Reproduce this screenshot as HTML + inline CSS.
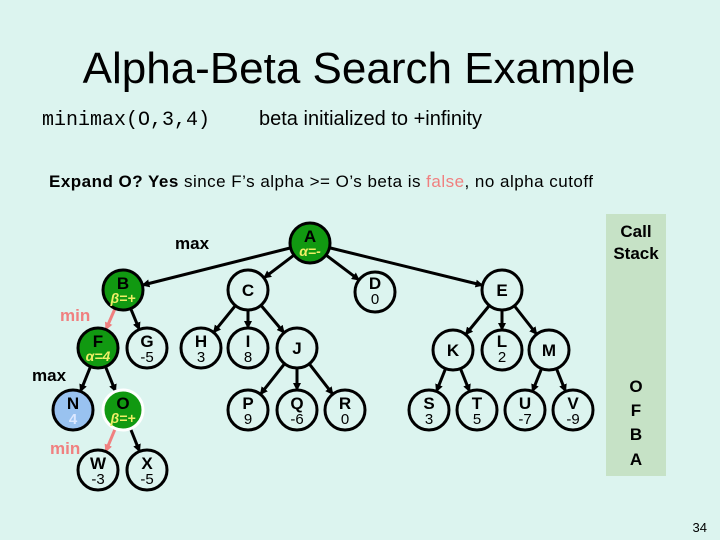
<!DOCTYPE html>
<html><head><meta charset="utf-8"><style>
body{margin:0;width:720px;height:540px;background:#dcf4ef;overflow:hidden;font-family:"Liberation Sans",sans-serif}
svg{position:absolute;left:0;top:0}
</style></head><body>
<svg width="720" height="540" viewBox="0 0 720 540" font-family="Liberation Sans, sans-serif">
<defs>
<marker id="ab" markerWidth="8" markerHeight="8" refX="7" refY="4" orient="auto" markerUnits="userSpaceOnUse"><path d="M0,0 L8,4 L0,8z" fill="#000"/></marker>
<marker id="ap" markerWidth="8" markerHeight="8" refX="7" refY="4" orient="auto" markerUnits="userSpaceOnUse"><path d="M0,0 L8,4 L0,8z" fill="#f08080"/></marker>
</defs>
<rect x="606" y="214" width="60" height="262" fill="#c6e2c6"/>
<text x="359" y="83" font-size="44" text-anchor="middle">Alpha-Beta Search Example</text>
<text x="42" y="125" font-size="20" font-family="Liberation Mono, monospace">minimax(O,3,4)</text>
<text x="259" y="125" font-size="20" textLength="223">beta initialized to +infinity</text>
<text x="49" y="187" font-size="17" textLength="544"><tspan font-weight="bold">Expand O? Yes</tspan> since F’s alpha &gt;= O’s beta is <tspan fill="#f08080">false</tspan>, no alpha cutoff</text>
<g id="edges" stroke-width="3" fill="none"></g>
<g stroke="#000" stroke-width="3">
<circle cx="310" cy="243" r="20" fill="#119911"/>
<circle cx="123" cy="290" r="20" fill="#119911"/>
<circle cx="248" cy="290" r="20" fill="#dcf4ef"/>
<circle cx="375" cy="292" r="20" fill="#dcf4ef"/>
<circle cx="502" cy="290" r="20" fill="#dcf4ef"/>
<circle cx="98" cy="348" r="20" fill="#119911"/>
<circle cx="147" cy="348" r="20" fill="#dcf4ef"/>
<circle cx="201" cy="348" r="20" fill="#dcf4ef"/>
<circle cx="248" cy="348" r="20" fill="#dcf4ef"/>
<circle cx="297" cy="348" r="20" fill="#dcf4ef"/>
<circle cx="453" cy="350" r="20" fill="#dcf4ef"/>
<circle cx="502" cy="350" r="20" fill="#dcf4ef"/>
<circle cx="549" cy="350" r="20" fill="#dcf4ef"/>
<circle cx="73" cy="410" r="20" fill="#99c2f0"/>
<circle cx="123" cy="410" r="20" fill="#119911" stroke="#fff"/>
<circle cx="248" cy="410" r="20" fill="#dcf4ef"/>
<circle cx="297" cy="410" r="20" fill="#dcf4ef"/>
<circle cx="345" cy="410" r="20" fill="#dcf4ef"/>
<circle cx="429" cy="410" r="20" fill="#dcf4ef"/>
<circle cx="477" cy="410" r="20" fill="#dcf4ef"/>
<circle cx="525" cy="410" r="20" fill="#dcf4ef"/>
<circle cx="573" cy="410" r="20" fill="#dcf4ef"/>
<circle cx="98" cy="470" r="20" fill="#dcf4ef"/>
<circle cx="147" cy="470" r="20" fill="#dcf4ef"/>
</g>
<g font-weight="bold" font-size="17" text-anchor="middle">
<text x="310" y="242">A</text><text x="310" y="256" font-size="14" fill="#eeee66" font-style="italic">α=-</text>
<text x="123" y="289">B</text><text x="123" y="303" font-size="14" fill="#eeee66" font-style="italic">β=+</text>
<text x="248" y="296">C</text>
<text x="375" y="289">D</text><text x="375" y="304" font-size="15" font-weight="normal">0</text>
<text x="502" y="296">E</text>
<text x="98" y="347">F</text><text x="98" y="361" font-size="14" fill="#eeee66" font-style="italic">α=4</text>
<text x="147" y="347">G</text><text x="147" y="362" font-size="15" font-weight="normal">-5</text>
<text x="201" y="347">H</text><text x="201" y="362" font-size="15" font-weight="normal">3</text>
<text x="248" y="347">I</text><text x="248" y="362" font-size="15" font-weight="normal">8</text>
<text x="297" y="354">J</text>
<text x="453" y="356">K</text>
<text x="502" y="347">L</text><text x="502" y="362" font-size="15" font-weight="normal">2</text>
<text x="549" y="356">M</text>
<text x="73" y="409">N</text><text x="73" y="424" font-size="15" fill="#dde8ff">4</text>
<text x="123" y="409">O</text><text x="123" y="423" font-size="14" fill="#eeee66" font-style="italic">β=+</text>
<text x="248" y="409">P</text><text x="248" y="424" font-size="15" font-weight="normal">9</text>
<text x="297" y="409">Q</text><text x="297" y="424" font-size="15" font-weight="normal">-6</text>
<text x="345" y="409">R</text><text x="345" y="424" font-size="15" font-weight="normal">0</text>
<text x="429" y="409">S</text><text x="429" y="424" font-size="15" font-weight="normal">3</text>
<text x="477" y="409">T</text><text x="477" y="424" font-size="15" font-weight="normal">5</text>
<text x="525" y="409">U</text><text x="525" y="424" font-size="15" font-weight="normal">-7</text>
<text x="573" y="409">V</text><text x="573" y="424" font-size="15" font-weight="normal">-9</text>
<text x="98" y="469">W</text><text x="98" y="484" font-size="15" font-weight="normal">-3</text>
<text x="147" y="469">X</text><text x="147" y="484" font-size="15" font-weight="normal">-5</text>
<text x="636" y="237">Call</text><text x="636" y="259">Stack</text>
<text x="636" y="392">O</text><text x="636" y="416">F</text><text x="636" y="440">B</text><text x="636" y="465">A</text>
</g>
<g font-weight="bold" font-size="17">
<text x="175" y="249">max</text>
<text x="60" y="321" fill="#f08080">min</text>
<text x="32" y="381">max</text>
<text x="50" y="454" fill="#f08080">min</text>
</g>
<text x="707" y="532" font-size="13" text-anchor="end">34</text>
</svg>
<script>
var P={A:[310,243],B:[123,290],C:[248,290],D:[375,292],E:[502,290],F:[98,348],G:[147,348],H:[201,348],I:[248,348],J:[297,348],K:[453,350],L:[502,350],M:[549,350],N:[73,410],O:[123,410],P:[248,410],Q:[297,410],R:[345,410],S:[429,410],T:[477,410],U:[525,410],V:[573,410],W:[98,470],X:[147,470]};
var E="AB AC AD AE BF BG CH CI CJ EK EL EM FN FO OW OX JP JQ JR KS KT MU MV".split(" ");
var g=document.getElementById("edges"),ns="http://www.w3.org/2000/svg";
E.forEach(function(e){var a=P[e[0]],b=P[e[1]],dx=b[0]-a[0],dy=b[1]-a[1],d=Math.hypot(dx,dy),ux=dx/d,uy=dy/d;
var l=document.createElementNS(ns,"line");var pink=(e=="BF"||e=="OW");
l.setAttribute("x1",a[0]+ux*20);l.setAttribute("y1",a[1]+uy*20);l.setAttribute("x2",b[0]-ux*20);l.setAttribute("y2",b[1]-uy*20);
l.setAttribute("stroke",pink?"#f08080":"#000");l.setAttribute("marker-end",pink?"url(#ap)":"url(#ab)");g.appendChild(l);});
</script>
</body></html>
